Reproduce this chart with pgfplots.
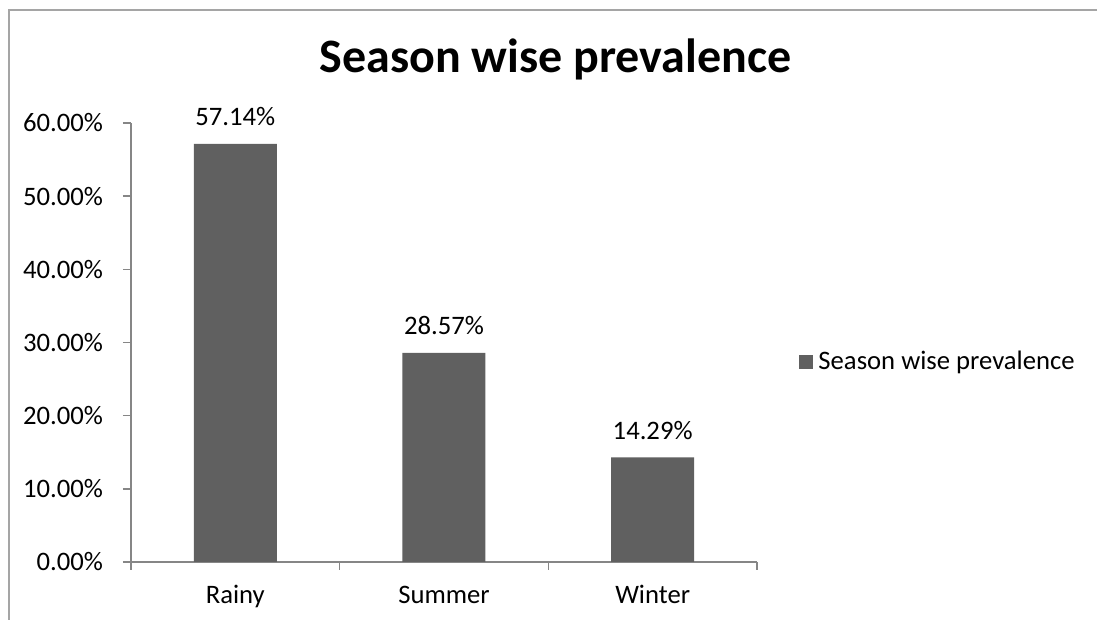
\documentclass[border=0pt]{standalone}
\usepackage{fontspec}
\setmainfont{Carlito}
\usepackage{pgfplots}
\pgfplotsset{compat=1.18}
\definecolor{barc}{RGB}{96,96,96}
\definecolor{axc}{RGB}{134,134,134}
\definecolor{framec}{RGB}{165,165,165}
\begin{document}
\begin{tikzpicture}[x=0.375pt,y=0.375pt]
\useasboundingbox (0,0) rectangle (1097,620);
\draw[framec, line width=0.75pt] (9,0) -- (9,610) -- (1097,610);
\node[font=\fontsize{18}{22}\selectfont\bfseries, anchor=base, inner sep=0pt] at (555.5,547) {Season wise prevalence};
\begin{axis}[
  at={(49.125pt,21.75pt)}, anchor=south west, scale only axis,
  width=234.75pt, height=164.625pt,
  xmin=-0.5, xmax=2.5, ymin=0, ymax=60,
  axis x line=bottom, axis y line=left,
  axis line style={-, axc, line width=0.6pt},
  tick style={axc, line width=0.6pt},
  tick align=outside, major tick length=3pt,
  xtick={-0.5,0.5,1.5,2.5}, xticklabels={Rainy,Summer,Winter},
  x tick label as interval,
  xticklabel style={anchor=base, yshift=-12.4pt},
  ytick={0,10,20,30,40,50,60},
  yticklabels={0.00\%,10.00\%,20.00\%,30.00\%,40.00\%,50.00\%,60.00\%},
  tick label style={font=\fontsize{10}{12}\selectfont},
  yticklabel style={xshift=-4pt},
  ybar, bar width=31.125pt,
  point meta=y,
  nodes near coords={\pgfmathprintnumber[fixed,fixed zerofill,precision=2,assume math mode=true]{\pgfplotspointmeta}\%},
  nodes near coords style={font=\fontsize{10}{12}\selectfont, anchor=base, yshift=6.75pt, inner sep=0pt},
  legend style={at={(axis description cs:1,0.455)}, anchor=west, xshift=12.6pt, draw=none, fill=none, font=\fontsize{10}{12}\selectfont},
  legend image code/.code={\fill[barc] (0pt,-2.6pt) rectangle (5.25pt,2.65pt);},
  clip=false,
]
\addplot[fill=barc, draw=none] coordinates {(0,57.14) (1,28.57) (2,14.29)};
\addlegendentry{Season wise prevalence}
\end{axis}
\end{tikzpicture}
\end{document}
